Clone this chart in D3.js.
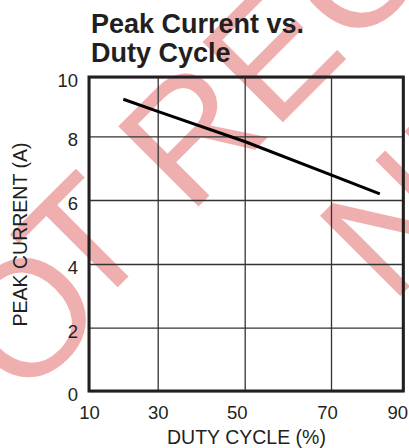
<!DOCTYPE html>
<html>
<head>
<meta charset="utf-8">
<script src="https://cdn.jsdelivr.net/npm/d3@7"></script>
<style>
  html, body { margin: 0; padding: 0; background: #fff; }
  svg text { font-family: "Liberation Sans", Arial, sans-serif; fill: #231f20; }
</style>
</head>
<body>
<div id="chart"></div>
<script>
'use strict';

// values
const dutyCycle = [20, 30, 50, 70, 83.5];
const peakCurrent = [9.25, 8.84, 7.84, 6.79, 6.19];
const xTicks = [10, 30, 50, 70, 90];
const yTicks = [0, 2, 4, 6, 8, 10];
const titleLines = ["Peak Current vs.", "Duty Cycle"];
const watermarkLines = ["NOT RECOMMENDED FOR", "NEW DESIGNS"];

const width = 409, height = 448;
const svg = d3.select("#chart").append("svg")
    .attr("width", width)
    .attr("height", height)
    .style("display", "block");

// watermark sits under everything
let wm = svg.append("g")
    .attr("transform", "translate(660,-255) rotate(-45)")
    .style("font-size", "165px");
let wmFirst = wm.append("text")
    .attr("x", 0)
    .attr("y", 0)
    .attr("text-anchor", "middle")
    .style("fill", "#f0afaf");
// the "O" sits a bit closer to the "T" in the original
wmFirst.append("tspan")
    .text(watermarkLines[0].slice(0, 1));
wmFirst.append("tspan")
    .attr("dx", 21)
    .attr("dy", 14)
    .text(watermarkLines[0].slice(1, 2));
wmFirst.append("tspan")
    .attr("dx", -21)
    .attr("dy", -14)
    .text(watermarkLines[0].slice(2));
wm.append("text")
    .attr("x", 0)
    .attr("y", 206)
    .attr("text-anchor", "middle")
    .style("fill", "#f0afaf")
    .text(watermarkLines[1]);

// the original grid is not evenly spaced, so use piecewise scales
const x = d3.scaleLinear()
    .domain(xTicks)
    .range([89, 157.7, 244.7, 331, 403.3]);
const y = d3.scaleLinear()
    .domain(yTicks)
    .range([391, 327.7, 264, 200, 136.4, 77]);

const plotLeft = x(10), plotRight = x(90), plotTop = y(10), plotBottom = y(0);

// grid lines through the axes
let yAxis = svg.append("g")
    .attr("transform", "translate(" + plotLeft + ",0)")
    .call(d3.axisLeft(y).tickValues(yTicks).tickSizeInner(-(plotRight - plotLeft)).tickSizeOuter(0).tickPadding(11));
yAxis.select(".domain").remove();
yAxis.selectAll(".tick line").attr("stroke", "#333").attr("stroke-width", 1.3);
yAxis.selectAll(".tick text")
    .attr("y", 3.5)
    .style("font-size", "18.5px");

// small label nudges, as in the original print
const xLabelNudge = {50: -8, 70: -4, 90: -6};
let xAxis = svg.append("g")
    .attr("transform", "translate(0," + plotBottom + ")")
    .call(d3.axisBottom(x).tickValues(xTicks).tickSizeInner(-(plotBottom - plotTop)).tickSizeOuter(0).tickPadding(15));
xAxis.select(".domain").remove();
xAxis.selectAll(".tick line").attr("stroke", "#333").attr("stroke-width", 1.3);
xAxis.selectAll(".tick text")
    .attr("x", d => xLabelNudge[d] || 0)
    .style("font-size", "18.5px");

// frame
svg.append("rect")
    .attr("x", plotLeft)
    .attr("y", plotTop)
    .attr("width", plotRight - plotLeft)
    .attr("height", plotBottom - plotTop)
    .attr("fill", "none")
    .attr("stroke", "#231f20")
    .attr("stroke-width", 3);

// the curve
const points = dutyCycle.map((d, i) => [d, peakCurrent[i]]);
svg.append("path")
    .datum(points)
    .attr("fill", "none")
    .attr("stroke", "#000")
    .attr("stroke-width", 3)
    .attr("d", d3.line().x(d => x(d[0])).y(d => y(d[1])));

// titles
svg.selectAll(".title")
    .data(titleLines)
    .enter()
    .append("text")
    .classed("title", true)
    .attr("x", 91)
    .attr("y", (d, i) => 33 + i * 29)
    .style("font-size", "27px")
    .style("font-weight", "bold")
    .text(d => d);

svg.append("text")
    .attr("x", 246.5)
    .attr("y", 444)
    .attr("text-anchor", "middle")
    .style("font-size", "19.5px")
    .text("DUTY CYCLE (%)");

svg.append("text")
    .attr("transform", "translate(26.5,234.5) rotate(-90)")
    .attr("text-anchor", "middle")
    .style("font-size", "19.5px")
    .text("PEAK CURRENT (A)");
</script>
</body>
</html>
